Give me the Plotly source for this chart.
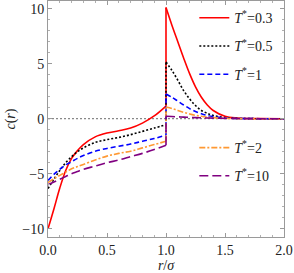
import plotly.graph_objects as go

# ---- data ----
r_in = [0.0, 0.05, 0.1, 0.15, 0.2, 0.25, 0.3, 0.4, 0.5, 0.6, 0.7, 0.8, 0.9, 1.0]
r_out = [1.0, 1.05, 1.1, 1.15, 1.2, 1.25, 1.3, 1.35, 1.4, 1.5, 1.6, 1.7, 1.8, 2.0]

labels = ["0.3", "0.5", "1", "2", "10"]

c_in_03 = [-10.0, -8.2, -6.3, -4.7, -3.6, -2.9, -2.35, -1.65, -1.3, -1.1, -0.85, -0.4, 0.25, 1.15]
c_in_05 = [-6.35, -5.5, -4.7, -4.0, -3.45, -3.0, -2.65, -2.15, -1.9, -1.7, -1.45, -1.15, -0.85, -0.55]
c_in_1 = [-5.6, -5.05, -4.6, -4.2, -3.9, -3.6, -3.35, -2.95, -2.7, -2.5, -2.3, -2.05, -1.8, -1.5]
c_in_2 = [-5.8, -5.45, -5.15, -4.85, -4.55, -4.35, -4.15, -3.75, -3.4, -3.15, -2.95, -2.65, -2.35, -2.05]
c_in_10 = [-6.0, -5.75, -5.5, -5.25, -5.0, -4.8, -4.6, -4.3, -4.0, -3.75, -3.45, -3.15, -2.8, -2.4]

c_out_03 = [10.1, 8.5, 7.0, 5.5, 4.1, 2.9, 1.95, 1.25, 0.75, 0.22, 0.06, 0.02, 0.01, 0.0]
c_out_05 = [5.15, 4.4, 3.5, 2.55, 1.8, 1.2, 0.75, 0.5, 0.3, 0.1, 0.03, 0.01, 0.0, 0.0]
c_out_1 = [2.25, 1.95, 1.6, 1.25, 0.92, 0.65, 0.45, 0.3, 0.2, 0.07, 0.02, 0.01, 0.0, 0.0]
c_out_2 = [1.07, 0.93, 0.75, 0.58, 0.43, 0.31, 0.22, 0.15, 0.1, 0.04, 0.01, 0.0, 0.0, 0.0]
c_out_10 = [0.22, 0.2, 0.17, 0.145, 0.12, 0.1, 0.08, 0.065, 0.05, 0.03, 0.015, 0.008, 0.004, 0.0]

x_ticks = [0.0, 0.5, 1.0, 1.5, 2.0]
y_ticks = [-10, -5, 0, 5, 10]

series = [
    (labels[0], c_in_03, c_out_03, "#ff0000", "solid", "legend"),
    (labels[1], c_in_05, c_out_05, "#000000", "2px,2px", "legend"),
    (labels[2], c_in_1, c_out_1, "#0000ff", "5px,3px", "legend"),
    (labels[3], c_in_2, c_out_2, "#ff9933", "6px,2px,2px,2px", "legend2"),
    (labels[4], c_in_10, c_out_10, "#800080", "9px,4px", "legend2"),
]

FONT = "Liberation Serif"
fig = go.Figure()

for lab, cin, cout, col, dash, leg in series:
    name = "<i>T</i><sup>*</sup>=" + lab
    line = dict(color=col, width=1.6, dash=dash)
    fig.add_trace(go.Scatter(x=r_in, y=cin, mode="lines", line=dict(line, shape="spline"),
                             name=name, legendgroup=lab, legend=leg, showlegend=True))
    fig.add_trace(go.Scatter(x=[r_in[-1], r_out[0]], y=[cin[-1], cout[0]], mode="lines",
                             line=line, legendgroup=lab, legend=leg, showlegend=False))
    fig.add_trace(go.Scatter(x=r_out, y=cout, mode="lines", line=dict(line, shape="spline"),
                             legendgroup=lab, legend=leg, showlegend=False))

# zero reference line
fig.add_shape(type="line", xref="paper", yref="y", x0=0, x1=1, y0=0, y1=0,
              line=dict(color="#888888", width=1.2, dash="2px,2px"), layer="below")

axis_common = dict(
    automargin=False,
    showgrid=False, zeroline=False, showline=True, linecolor="#9a9a9a", linewidth=1,
    mirror="ticks", ticks="inside", ticklen=4, tickwidth=1, tickcolor="#9a9a9a",
    tickfont=dict(family=FONT, size=14, color="#222222"),
    minor=dict(ticks="inside", ticklen=2, tickwidth=1, tickcolor="#b0b0b0"),
)

fig.update_xaxes(axis_common, range=[0, 2], tickvals=x_ticks,
                 ticktext=[f"{v:.1f}" for v in x_ticks], minor_dtick=0.1,
                 title=dict(text="<i>r</i>/<i>σ</i>", font=dict(family=FONT, size=14, color="#222222"),
                            standoff=4))
fig.update_yaxes(axis_common, range=[-10.75, 10.7], tickvals=y_ticks,
                 ticktext=[("−" + str(-v)) if v < 0 else str(v) for v in y_ticks], minor_dtick=1,
                 title=dict(text="<i>c</i>(<i>r</i>)", font=dict(family=FONT, size=14, color="#222222"),
                            standoff=3))

legend_common = dict(bgcolor="rgba(0,0,0,0)", borderwidth=0,
                     font=dict(family=FONT, size=14, color="#222222"),
                     traceorder="grouped", tracegroupgap=7, itemwidth=30,
                     xanchor="left", yanchor="top")

fig.update_layout(
    width=294, height=273,
    margin=dict(l=48, r=10, t=1, b=36, autoexpand=False),
    paper_bgcolor="white", plot_bgcolor="white",
    font=dict(family=FONT, size=14, color="#222222"),
    legend=dict(legend_common, x=0.62, y=0.995),
    legend2=dict(legend_common, x=0.62, y=0.445),
)

fig.write_html("out.html", config={"displayModeBar": False},
               post_script="document.body.style.margin='0';document.body.style.padding='0';"
                           "document.body.style.overflow='hidden';")
